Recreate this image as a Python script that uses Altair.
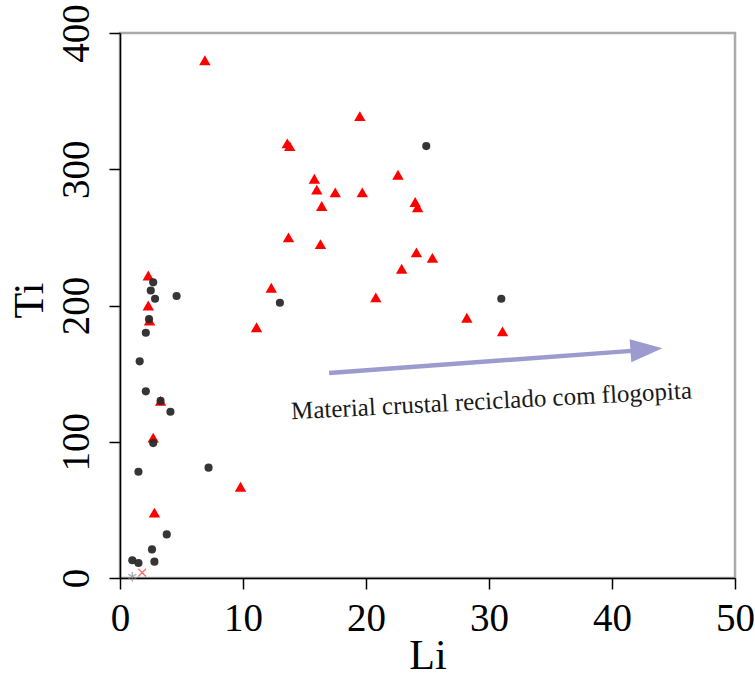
import altair as alt
import pandas as pd

# Red triangles (Li, Ti)
tri_li = [6.9, 19.5, 13.6, 13.8, 15.8, 16.0, 17.5, 19.7, 16.4, 22.6, 24.0, 24.2,
          13.7, 16.3, 24.1, 25.4, 22.9, 12.3, 20.8, 11.1, 28.2, 31.1, 9.8, 2.8,
          2.7, 3.3, 2.3, 2.3, 2.4]
tri_ti = [380, 339, 319, 317, 293, 285, 283, 283, 273, 296, 276, 272,
          250, 245, 239, 235, 227, 213, 206, 184, 191, 181, 67, 48,
          103, 130, 222, 200, 189]

# Black dots (Li, Ti)
dot_li = [24.9, 31.0, 13.0, 4.6, 2.7, 2.5, 2.85, 2.36, 2.1, 1.6, 2.1, 3.3, 4.1,
          2.7, 1.5, 7.2, 3.8, 2.6, 1.0, 1.5, 2.8]
dot_ti = [317, 205, 202, 207, 217, 211, 205, 190, 180, 159, 137, 130, 122,
          99, 78, 81, 32, 21, 13, 11, 12]

# Other symbols
star_li = [1.0]
star_ti = [1]
xmark_li = [1.8]
xmark_ti = [4]

# Arrow and annotation (data coordinates)
arrow_li = [17.0, 41.6]
arrow_ti = [150.5, 166.7]
head_li = [42.8]
head_ti = [167.7]
label_li = [30.2]
label_ti = [130.0]
label_text = ["Material crustal reciclado com flogopita"]

FONT = "Liberation Serif"

xs = alt.Scale(domain=[0, 50], nice=False, zero=False)
ys = alt.Scale(domain=[0, 400], nice=False, zero=False)

x_axis = alt.Axis(values=[0, 10, 20, 30, 40, 50], title="Li", grid=False,
                  labelFont=FONT, labelFontSize=39, labelColor="black",
                  labelBaseline="alphabetic", labelPadding=41, labelFlush=False,
                  labelOverlap=False,
                  titleFont=FONT, titleFontSize=42, titleFontWeight="normal",
                  titleColor="black", titleBaseline="alphabetic", titleY=90,
                  tickSize=11, tickColor="black", tickWidth=1.5,
                  domainColor="black", domainWidth=1.5)
y_axis = alt.Axis(values=[0, 100, 200, 300, 400], title="Ti", grid=False,
                  labelFont=FONT, labelFontSize=39, labelColor="black",
                  labelAngle=270, labelAlign="center", labelBaseline="alphabetic",
                  labelPadding=21, labelFlush=False, labelOverlap=False,
                  titleFont=FONT, titleFontSize=42, titleFontWeight="normal",
                  titleColor="black", titleBaseline="alphabetic", titleAngle=270,
                  titleAlign="center", titleX=-78, titleY=267,
                  tickSize=11, tickColor="black", tickWidth=1.5,
                  domainColor="black", domainWidth=1.5)

tri_df = pd.DataFrame({"Li": tri_li, "Ti": tri_ti})
dot_df = pd.DataFrame({"Li": dot_li, "Ti": dot_ti})
star_df = pd.DataFrame({"Li": star_li, "Ti": star_ti})
xm_df = pd.DataFrame({"Li": xmark_li, "Ti": xmark_ti})
arrow_df = pd.DataFrame({"Li": [arrow_li[0]], "Ti": [arrow_ti[0]],
                         "Li2": [arrow_li[1]], "Ti2": [arrow_ti[1]]})
head_df = pd.DataFrame({"Li": head_li, "Ti": head_ti})
lab_df = pd.DataFrame({"Li": label_li, "Ti": label_ti, "t": label_text})

tri = alt.Chart(tri_df).mark_point(shape="triangle-up", filled=True, color="#ff0000",
                                   size=130, opacity=1).encode(
    x=alt.X("Li:Q", scale=xs, axis=x_axis),
    y=alt.Y("Ti:Q", scale=ys, axis=y_axis))

dots = alt.Chart(dot_df).mark_point(shape="circle", filled=True, color="#2a2a2a",
                                    size=66, opacity=0.95).encode(
    x=alt.X("Li:Q", scale=xs), y=alt.Y("Ti:Q", scale=ys))

star = alt.Chart(star_df).mark_point(
    shape="M0,-1L0,1M-0.87,-0.5L0.87,0.5M-0.87,0.5L0.87,-0.5",
    filled=False, color="#888888", size=90, strokeWidth=1.3).encode(
    x=alt.X("Li:Q", scale=xs), y=alt.Y("Ti:Q", scale=ys))

xm = alt.Chart(xm_df).mark_point(shape="M-1,-1L1,1M-1,1L1,-1", filled=False,
                                 color="#ff3333", size=60, strokeWidth=1.3).encode(
    x=alt.X("Li:Q", scale=xs), y=alt.Y("Ti:Q", scale=ys))

arrow = alt.Chart(arrow_df).mark_rule(color="#9b9bd0", strokeWidth=4.5).encode(
    x=alt.X("Li:Q", scale=xs), y=alt.Y("Ti:Q", scale=ys),
    x2="Li2:Q", y2="Ti2:Q")

head = alt.Chart(head_df).mark_point(shape="M-1,-0.72L1,0L-1,0.72Z", filled=True,
                                     color="#9b9bd0", size=1024, angle=355.7,
                                     opacity=1).encode(
    x=alt.X("Li:Q", scale=xs), y=alt.Y("Ti:Q", scale=ys))

label = alt.Chart(lab_df).mark_text(font=FONT, fontSize=25, color="#1a1a1a",
                                    angle=357, align="center",
                                    baseline="middle").encode(
    x=alt.X("Li:Q", scale=xs), y=alt.Y("Ti:Q", scale=ys), text="t:N")

chart = alt.layer(tri, dots, star, xm, arrow, head, label).properties(
    width=615, height=545,
    autosize=alt.AutoSizeParams(type="none"),
    padding={"left": 120, "top": 33, "right": 20, "bottom": 109},
    background="white",
).configure_view(stroke="#aaaaaa", strokeWidth=2.5)

chart.save("out.html", embed_options={"renderer": "svg", "actions": False})
